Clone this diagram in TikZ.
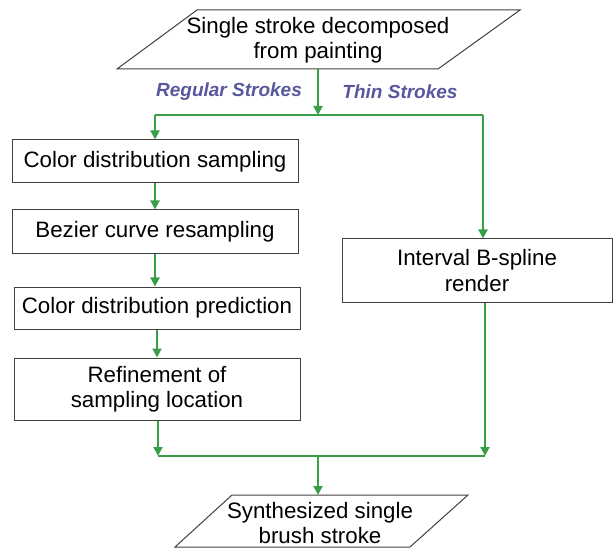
\documentclass[tikz,border=0pt]{standalone}
\usepackage{fontspec}
\setmainfont{Liberation Sans}
\usetikzlibrary{arrows.meta}
\definecolor{flowgreen}{RGB}{56,158,72}
\definecolor{labblue}{RGB}{88,88,158}
\tikzset{
    box/.style={draw=black!75,line width=1pt,fill=white,inner sep=2pt,align=center,font=\fontsize{22.3}{25.5}\selectfont},
    flow/.style={draw=flowgreen,line width=2pt,-{Triangle[width=9pt,length=9pt]}},
    link/.style={draw=flowgreen,line width=2pt},
    branch/.style={text=labblue,font=\fontsize{19}{22}\selectfont\bfseries\itshape}
}
\begin{document}
\begin{tikzpicture}[x=1pt,y=-1pt]
            \useasboundingbox (0,0) rectangle (616,548);
            % input and output strokes
            \draw[black!75,line width=1pt] (197,10)--(520,10)--(438,69)--(117,69)--cycle;
            \node[box,draw=none,fill=none] (src) at (318,40) {Single stroke decomposed\\from painting};
            \coordinate (srcb) at (318,69);
            \draw[black!75,line width=1pt] (232,495)--(468,495)--(410,547)--(175,547)--cycle;
            \node[box,draw=none,fill=none] (dst) at (320,523) {Synthesized single\\brush stroke};
            \coordinate (dstt) at (318,495);
            
            % regular strokes
            \node[box,minimum width=286pt,minimum height=43pt] (cds) at (155,161.5) {Color distribution sampling};
            \node[box,minimum width=286pt,minimum height=44pt] (bcr) at (155,232) {Bezier curve resampling};
            \node[box,minimum width=286pt,minimum height=42pt] (cdp) at (157,308) {Color distribution prediction};
            \node[box,minimum width=286pt,minimum height=62pt] (rsl) at (157,389) {Refinement of\\sampling location};
            % thin strokes
            \node[box,minimum width=270pt,minimum height=63pt] (ibs) at (477,270.5) {Interval B-spline\\render};
            
            \node[branch] (reg) at (229,92) {Regular Strokes};
            \node[branch] (thin) at (400,92) {Thin Strokes};
            
            \coordinate (splitL) at (155,115);
            \coordinate (splitR) at (483,115);
            \coordinate (joinL) at (158,456);
            \coordinate (joinR) at (485,456);
            
            \draw[flow] (srcb) -- (srcb |- splitL);
            \draw[link] (splitL) -- (splitR);
            \draw[flow] (splitL) -- (cds.north);
            \draw[flow] (splitR) -- (splitR |- ibs.north);
            \foreach \a/\b in {cds/bcr,bcr/cdp,cdp/rsl}
                \draw[flow] (\a.south) -- (\a.south |- \b.north);
            \draw[flow] (rsl.south -| joinL) -- (joinL);
            \draw[flow] (ibs.south -| joinR) -- (joinR);
            \draw[link] (joinL) -- (joinR);
            \draw[flow] (dstt |- joinL) -- (dstt);
        \end{tikzpicture}
\end{document}
